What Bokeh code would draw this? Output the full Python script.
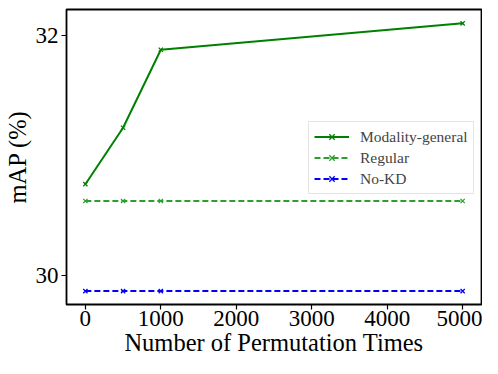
from bokeh.plotting import figure
from bokeh.models import Range1d, FixedTicker, Legend, LegendItem
from bokeh.embed import file_html
from bokeh.resources import INLINE

perm_times = [0, 500, 1000, 5000]
modality_general = [30.76, 31.23, 31.88, 32.10]
regular = [30.62, 30.62, 30.62, 30.62]
no_kd = [29.87, 29.87, 29.87, 29.87]
x_ticks = [0, 1000, 2000, 3000, 4000, 5000]
y_ticks = [30, 32]
x_label = "Number of Permutation Times"
y_label = "mAP (%)"

FONT = "Liberation Serif"

p = figure(width=482, height=358, output_backend="svg", toolbar_location=None,
           x_range=Range1d(-250, 5250), y_range=Range1d(29.758, 32.215),
           min_border_left=66, min_border_right=1, min_border_top=9, min_border_bottom=52)

p.xgrid.visible = False
p.ygrid.visible = False
p.outline_line_color = "black"
p.outline_line_width = 1.8
p.background_fill_color = "white"
p.border_fill_color = "white"

series = [
    ("Modality-general", modality_general, "green", "solid"),
    ("Regular", regular, "#2ca02c", "6 3"),
    ("No-KD", no_kd, "blue", "6 3"),
]
items = []
for name, vals, color, dash in series:
    r1 = p.line(perm_times, vals, line_color=color, line_width=2, line_dash=dash)
    r2 = p.scatter(perm_times, vals, marker="x", size=6, line_color=color, line_width=1.3)
    items.append(LegendItem(label=name, renderers=[r1, r2]))

legend = Legend(items=items, location=(242, 110))
legend.label_text_font = FONT
legend.label_text_font_size = "15.5px"
legend.glyph_width = 35
legend.glyph_height = 19
legend.label_height = 19
legend.spacing = 2
legend.padding = 5
legend.margin = 0
legend.label_standoff = 11
legend.border_line_color = "#cccccc"
legend.border_line_width = 1
legend.background_fill_color = "white"
legend.background_fill_alpha = 0.8
p.add_layout(legend, "center")

for ax in (p.xaxis[0], p.yaxis[0]):
    ax.axis_line_color = None
    ax.major_tick_line_color = "black"
    ax.major_tick_line_width = 1.2
    ax.major_tick_out = 5
    ax.major_tick_in = 0
    ax.minor_tick_line_color = None
    ax.major_label_text_font = FONT
    ax.major_label_text_font_size = "23px"
    ax.major_label_text_color = "black"
    ax.axis_label_text_font = FONT
    ax.axis_label_text_font_size = "24.5px"
    ax.axis_label_text_font_style = "normal"
    ax.axis_label_text_color = "black"

p.xaxis[0].major_label_standoff = 1
p.xaxis[0].axis_label_standoff = 0
p.yaxis[0].major_label_standoff = 3
p.yaxis[0].axis_label_standoff = 2

p.xaxis[0].ticker = FixedTicker(ticks=x_ticks)
p.yaxis[0].ticker = FixedTicker(ticks=y_ticks)
p.xaxis[0].axis_label = x_label
p.yaxis[0].axis_label = y_label

open("out.html", "w").write(file_html(p, INLINE))
